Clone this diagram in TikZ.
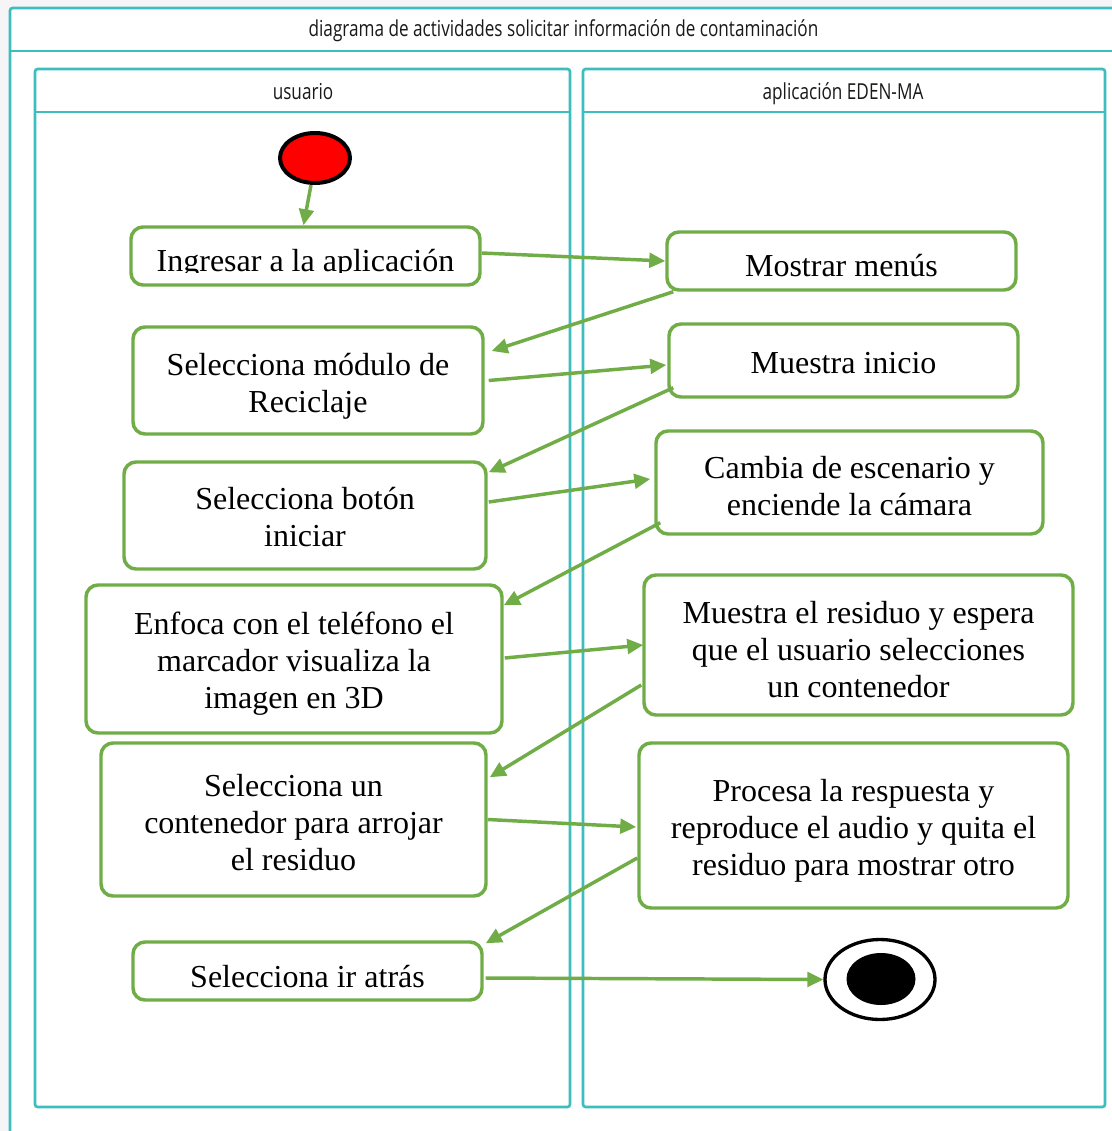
\documentclass[tikz,border=0pt]{standalone}
\usepackage{fontspec}
\setmainfont{Liberation Serif}
\newfontfamily\titlefont{Open Sans}
\usetikzlibrary{arrows.meta,calc,shapes.geometric}
\definecolor{teal1}{HTML}{3DBDBD}
\definecolor{grn}{HTML}{70AD47}
\definecolor{bgg}{HTML}{F5F5F7}
\tikzset{
 act/.style={draw=grn, line width=2.6pt, rounded corners=9pt, fill=white, inner sep=0pt},
 acttext/.style={inner sep=0pt, align=center, font=\fontsize{24}{27.75}\selectfont},
 flow/.style={draw=grn, line width=2.6pt, -{Triangle[length=12pt,width=11pt]}},
 lane/.style={draw=teal1, line width=2pt, rounded corners=2pt},
 sep/.style={draw=teal1, line width=2pt},
 lbl/.style={font=\titlefont\fontsize{16.5}{18}\selectfont, text=black!90, inner sep=0pt, anchor=base},
}
\begin{document}
\begin{tikzpicture}[x=0.75pt,y=-0.75pt]
\useasboundingbox (0,0) rectangle (1112,1131);
\clip (0,0) rectangle (1112,1131);
\fill[bgg] (0,0) rectangle (1112,1131);
% frame
\draw[teal1, line width=2pt, fill=white, rounded corners=2pt] (10,8) rectangle (1130,1150);
\draw[sep] (10,51) -- (1130,51);
\node[lbl] (title) at (563.5,37) {\scalebox{0.78}[1]{diagrama de actividades solicitar información de contaminación}};
% lanes
\draw[lane] (35,69) rectangle (570,1107);
\draw[sep] (35,112) -- (570,112);
\draw[lane] (583,69) rectangle (1105,1107);
\draw[sep] (583,112) -- (1105,112);
\node[lbl] (laneU) at (303,99) {\scalebox{0.78}[1]{usuario}};
\node[lbl] (laneA) at (843,99) {\scalebox{0.78}[1]{aplicación EDEN-MA}};

% start / end
\node[ellipse, draw=black, line width=3pt, fill=red, minimum width=52.5pt, minimum height=37.5pt, inner sep=0pt] (start) at (315,158) {};
\node[ellipse, draw=black, line width=2.5pt, fill=white, minimum width=82.5pt, minimum height=60pt, inner sep=0pt] (end) at (880,979.5) {};
\node[ellipse, fill=black, minimum width=51.75pt, minimum height=39pt, inner sep=0pt] (endin) at (881,979) {};

% activities
\node[act, minimum width=261.75pt, minimum height=43.5pt] (ing) at (305.5,256) {};
\begin{scope}
\clip ($(ing.north west)$) rectangle ($(ing.east)+(0,16)$);
\node[acttext, anchor=base] (ingT) at (305.5,271) {Ingresar a la aplicación};
\end{scope}

\node[act, minimum width=261.75pt, minimum height=43.5pt] (mos) at (841.5,261) {};
\begin{scope}
\clip ($(mos.north west)$) rectangle ($(mos.east)+(0,16)$);
\node[acttext, anchor=base] (mosT) at (841.5,276) {Mostrar menús};
\end{scope}

\node[act, minimum width=262.5pt, minimum height=80.25pt] (mod) at (308,380.5) {};
\node[acttext] (modT) at ($(mod.center)+(0,6)$) {Selecciona módulo de\\Reciclaje};
\node[act, minimum width=261.75pt, minimum height=54.75pt] (ini) at (843.5,360.5) {};
\node[acttext] (iniT) at ($(ini.center)+(0,3)$) {Muestra inicio};
\node[act, minimum width=271.5pt, minimum height=80.25pt] (bot) at (305,515.5) {};
\node[acttext] (botT) at ($(bot.center)+(0,2)$) {Selecciona botón\\iniciar};
\node[act, minimum width=290.25pt, minimum height=77.25pt] (cam) at (849.5,482.5) {};
\node[acttext] (camT) at ($(cam.center)+(0,4)$) {Cambia de escenario y\\enciende la cámara};
\node[act, minimum width=312pt, minimum height=111pt] (enf) at (294,659) {};
\node[acttext] (enfT) at ($(enf.center)+(0,5)$) {Enfoca con el teléfono el\\marcador visualiza la\\imagen en 3D};
\node[act, minimum width=321.75pt, minimum height=105pt] (res) at (858.5,645) {};
\node[acttext] (resT) at ($(res.center)+(0,5)$) {Muestra el residuo y espera\\que el usuario selecciones\\un contenedor};
\node[act, minimum width=288.75pt, minimum height=114.75pt] (con) at (293.5,819.5) {};
\node[acttext] (conT) at ($(con.center)+(0,3)$) {Selecciona un\\contenedor para arrojar\\el residuo};
\node[act, minimum width=321.75pt, minimum height=123.75pt] (pro) at (853.5,825.5) {};
\node[acttext] (proT) at ($(pro.center)+(0,5)$) {Procesa la respuesta y\\reproduce el audio y quita el\\residuo para mostrar otro};

\node[act, minimum width=261.75pt, minimum height=43.5pt] (atr) at (307.5,971) {};
\begin{scope}
\clip ($(atr.north west)$) rectangle ($(atr.east)+(0,17)$);
\node[acttext, anchor=base] (atrT) at (307.5,987) {Selecciona ir atrás};
\end{scope}

% flows
\draw[flow] ($(start.south)+(-4,0)$) -- ($(ing.north)+(-2,0)$);
\draw[flow] ($(ing.east)+(0,-3)$) -- (mos.west);
\draw[flow] ($(mos.south west)+(8,0)$) -- ($(mod.east)+(7,-29.5)$);
\draw[flow] ($(mod.east)+(4,0)$) -- ($(ini.west)+(-1,4.5)$);
\draw[flow] ($(ini.south west)+(6,-11)$) -- ($(bot.north east)+(1,12)$);
\draw[flow] ($(bot.east)+(1,-13.5)$) -- ($(cam.west)+(-4,-3.5)$);
\draw[flow] ($(cam.south west)+(6,-13)$) -- ($(enf.north east)+(0,22)$);
\draw[flow] ($(enf.east)+(1,-1)$) -- ($(res.west)+(1,0)$);
\draw[flow] ($(res.west)+(-1,40)$) -- ($(con.north east)+(2,36)$);
\draw[flow] (con.east) -- ($(pro.west)+(-1,1.5)$);
\draw[flow] ($(pro.west)+(0,32.5)$) -- ($(atr.north east)+(2,3)$);
\draw[flow] ($(atr.east)+(2,7)$) -- (end.west);
\end{tikzpicture}
\end{document}
